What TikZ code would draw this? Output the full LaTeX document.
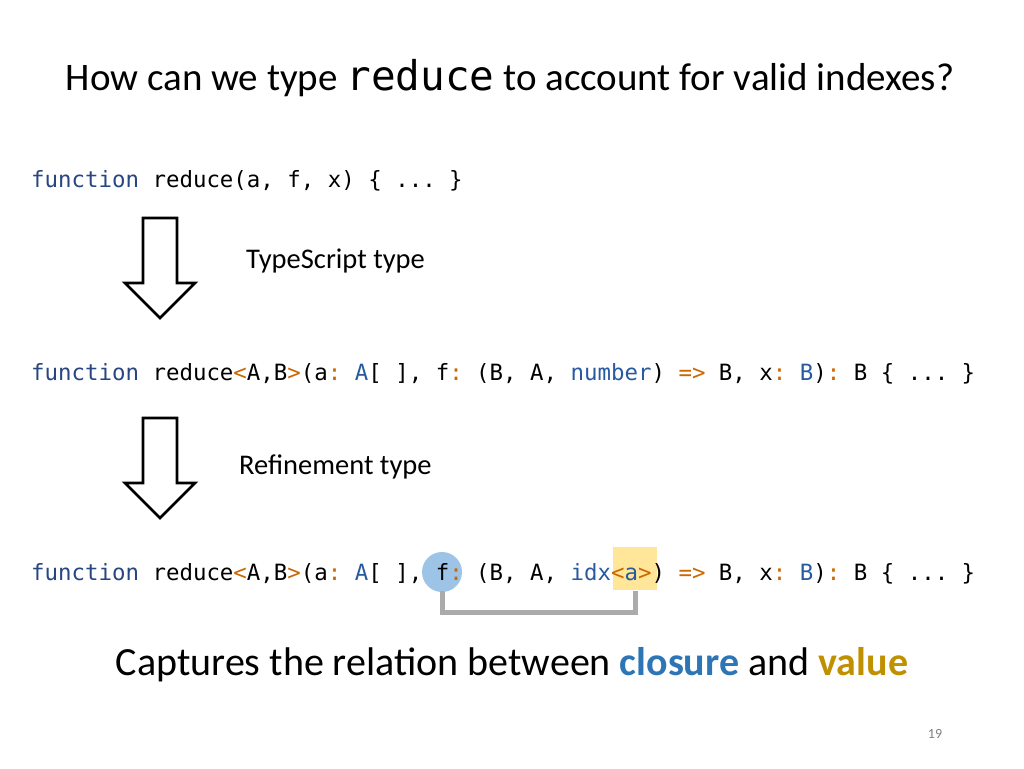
\documentclass[tikz,border=0pt]{standalone}
\usepackage{fontspec}
\setmainfont{Carlito}
\setmonofont{DejaVu Sans Mono}
\usetikzlibrary{positioning}
\definecolor{kwblue}{RGB}{40,70,130}
\definecolor{tyblue}{RGB}{40,90,160}
\definecolor{oporange}{RGB}{204,102,0}
\definecolor{closblue}{RGB}{157,195,230}
\definecolor{valyellow}{RGB}{255,230,153}
\definecolor{capblue}{RGB}{46,117,182}
\definecolor{capgold}{RGB}{191,144,0}
\newcommand{\kw}[1]{\textcolor{kwblue}{#1}}
\newcommand{\ty}[1]{\textcolor{tyblue}{#1}}
\newcommand{\op}[1]{\textcolor{oporange}{#1}}
\newcommand{\downarrowat}[1]{\draw[line width=2.8pt, line join=miter] (#1) ++(-17,-50) -- ++(34,0) -- ++(0,65) -- ++(18,0) -- ++(-35,35) -- ++(-35,-35) -- ++(18,0) -- cycle;}
\tikzset{
  code/.style={anchor=west, inner sep=0pt, font=\fontsize{22.4}{26}\ttfamily},
  caption/.style={inner sep=0pt, anchor=west, font=\fontsize{28.5}{32}\selectfont},
}
\begin{document}
\begin{tikzpicture}[x=1pt,y=-1pt]
\useasboundingbox (0,0) rectangle (1024,768);
% highlights
\fill[closblue] (442,572) circle (20);
\fill[valyellow] (613,547) rectangle (657,590);
\node (title) at (510,78) {\fontsize{39}{44}\selectfont How can we type {\fontsize{41}{44}\ttfamily reduce} to account for valid indexes?};
\node[code] (js) at (31,181) {\kw{function} reduce(a, f, x) \{ ... \}};
\coordinate (arr1) at (160,268);
\downarrowat{arr1}
\node[caption] (tslab) at (246,261) {TypeScript type};
\node[code] (ts) at (31,374) {\kw{function} reduce\op{<}A,B\op{>}(a\op{:} \ty{A}[ ], f\op{:} (B, A, \ty{number}) \op{=>} B, x\op{:} \ty{B})\op{:} B \{ ... \}};
\coordinate (arr2) at (160,468);
\downarrowat{arr2}
\node[caption] (rflab) at (239,467) {Refinement type};
\node[code] (rf) at (31,574) {\kw{function} reduce\op{<}A,B\op{>}(a\op{:} \ty{A}[ ], f\op{:} (B, A, \ty{idx}\op{<}\ty{a}\op{>}) \op{=>} B, x\op{:} \ty{B})\op{:} B \{ ... \}};
\coordinate (clos) at (442,591);
\coordinate (val) at (635,591);
\draw[line width=5pt, black!33] (clos) -- ++(0,21) -| (val);
\node (capt) at (512,665) {\fontsize{40}{46}\selectfont Captures the relation between \textcolor{capblue}{\textbf{closure}} and \textcolor{capgold}{\textbf{value}}};
\node[text=black!50] (page) at (935,734) {\fontsize{14}{16}\selectfont 19};
\end{tikzpicture}
\end{document}
